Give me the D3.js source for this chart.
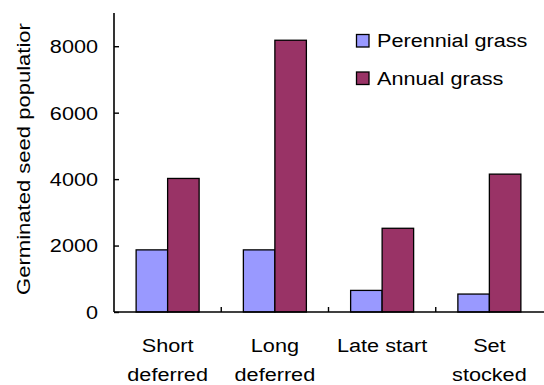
<!DOCTYPE html>
<html>
<head>
<meta charset="utf-8">
<script src="https://cdn.jsdelivr.net/npm/d3@7"></script>
<style>
  html, body { margin: 0; padding: 0; background: #fff; }
  svg { display: block; }
  text { font-family: "Liberation Sans", Arial, sans-serif; fill: #000; }
</style>
</head>
<body>
<svg id="chart" width="544" height="385"></svg>
<script>
const categories = [["Short", "deferred"], ["Long", "deferred"], ["Late start"], ["Set", "stocked"]];
const categoryKeys = ["Short deferred", "Long deferred", "Late start", "Set stocked"];
const seriesNames = ["Perennial grass", "Annual grass"];
const perennial = [1870, 1870, 650, 540];
const annual = [4020, 8180, 2520, 4150];
const yTicks = [0, 2000, 4000, 6000, 8000];
const yTitle = "Germinated seed populatior";
const colors = ["#9999ff", "#993366"];

const svg = d3.select("#chart");
const FS = 19, SX = 1.14;

const x0 = d3.scaleBand().domain(categoryKeys).range([114, 543]);
const groupW = 63;
const x1 = d3.scaleBand().domain(seriesNames)
  .range([(x0.bandwidth() - groupW) / 2, (x0.bandwidth() + groupW) / 2]);
const y = d3.scaleLinear().domain([0, 9000]).range([312, 13]);

const values = [perennial, annual];

// bars
categoryKeys.forEach((c, i) => {
  const g = svg.append("g").attr("transform", `translate(${x0(c)},0)`);
  seriesNames.forEach((s, j) => {
    const v = values[j][i];
    g.append("rect")
      .attr("x", x1(s))
      .attr("y", y(v))
      .attr("width", x1.bandwidth())
      .attr("height", y(0) - y(v))
      .attr("fill", colors[j])
      .attr("stroke", "#000")
      .attr("stroke-width", 1.3);
  });
});

// y axis
const yAxis = svg.append("g").attr("transform", `translate(${x0.range()[0]},0)`)
  .call(d3.axisRight(y).tickValues(yTicks).tickSize(5).tickFormat(""));
yAxis.select(".domain").remove();
yAxis.append("line").attr("x1", 0).attr("x2", 0).attr("y1", y(9000)).attr("y2", y(0))
  .attr("stroke", "#000").attr("stroke-width", 1.6);
yAxis.selectAll(".tick line").attr("stroke", "#000").attr("stroke-width", 1.4);

yTicks.forEach(t => {
  svg.append("text")
    .attr("transform", `translate(98,${y(t)}) scale(${SX},1)`)
    .attr("text-anchor", "end")
    .attr("dy", "0.36em")
    .style("font-size", FS + "px")
    .text(t);
});

// x axis
const xAxisY = y(0);
svg.append("line").attr("x1", x0.range()[0]).attr("x2", 544)
  .attr("y1", xAxisY).attr("y2", xAxisY)
  .attr("stroke", "#000").attr("stroke-width", 1.6);
categoryKeys.slice(1).forEach(c => {
  svg.append("line").attr("x1", x0(c)).attr("x2", x0(c))
    .attr("y1", xAxisY).attr("y2", xAxisY - 5)
    .attr("stroke", "#000").attr("stroke-width", 1.4);
});

categoryKeys.forEach((c, i) => {
  const cx = x0(c) + x0.bandwidth() / 2;
  categories[i].forEach((line, k) => {
    svg.append("text")
      .attr("transform", `translate(${cx},${351.5 + k * 29}) scale(${SX},1)`)
      .attr("text-anchor", "middle")
      .style("font-size", FS + "px")
      .text(line);
  });
});

// y title
svg.append("text")
  .attr("transform", `translate(29.5,159) rotate(-90) scale(1.16,1)`)
  .attr("text-anchor", "middle")
  .style("font-size", FS + "px")
  .text(yTitle);

// legend
seriesNames.forEach((s, j) => {
  const by = 47 + j * 37.5;
  svg.append("rect")
    .attr("x", 356.5).attr("y", by - 12.5)
    .attr("width", 12.5).attr("height", 12.5)
    .attr("fill", colors[j]).attr("stroke", "#000").attr("stroke-width", 1.3);
  svg.append("text")
    .attr("transform", `translate(377,${by}) scale(${SX},1)`)
    .style("font-size", FS + "px")
    .text(s);
});
</script>
</body>
</html>
